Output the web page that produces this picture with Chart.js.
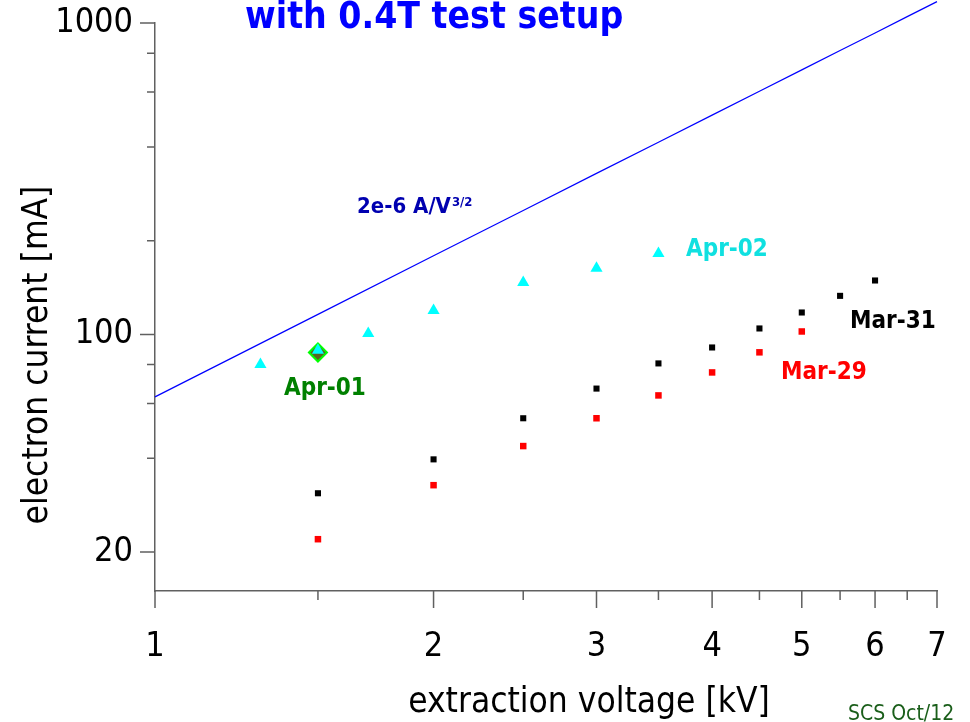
<!DOCTYPE html>
<html>
<head>
<meta charset="utf-8">
<script src="https://cdn.jsdelivr.net/npm/chart.js@4.4.0/dist/chart.umd.min.js"></script>
<style>
  body { margin: 0; background: #fff; }
</style>
</head>
<body>
<canvas id="myChart" width="970" height="722"></canvas>
<script>
// 2e-6 A/V^3/2 reference line
var voltageLine = [1, 1.5, 2, 2.5, 3, 3.5, 4, 4.5, 5, 5.5, 6, 6.5, 7, 7.5];
var currentLine = [63, 116, 179, 250, 329, 414, 506, 604, 707, 816, 929, 1048, 1171, 1299];

var voltageApr02 = [1.3, 1.5, 1.7, 2, 2.5, 3, 3.5];
var currentApr02 = [80, 89, 100.7, 119.4, 146.8, 163, 182];

var voltageMar31 = [1.5, 2, 2.5, 3, 3.5, 4, 4.5, 5, 5.5, 6];
var currentMar31 = [30.9, 39.7, 53.8, 67, 80.7, 90.8, 104.5, 117.6, 133, 149];

var voltageMar29 = [1.5, 2, 2.5, 3, 3.5, 4, 4.5, 5];
var currentMar29 = [22, 32.8, 43.8, 53.8, 63.7, 75.5, 87.6, 102.2];

var voltageApr01 = [1.5];
var currentApr01 = [87.5];

var xMajor = [1, 2, 3, 4, 5, 6, 7];
var xMinor = [1.5, 2.5, 3.5, 4.5, 5.5, 6.5];
var yMajor = [20, 100, 1000];
var yMinor = [40, 60, 80, 200, 400, 600, 800];

var FONT = "'DejaVu Sans Condensed', 'DejaVu Sans', sans-serif";
var AXIS = '#606060';

function pts(xs, ys) {
    return xs.map(function(v, i) { return {x: v, y: ys[i]}; });
}

var decorations = {
    id: 'decorations',
    afterDraw: function(chart) {
        var ctx = chart.ctx, xs = chart.scales.x, ys = chart.scales.y, a = chart.chartArea;
        ctx.save();
        // tick marks
        ctx.strokeStyle = AXIS;
        ctx.lineWidth = 1.5;
        ctx.beginPath();
        xMajor.forEach(function(v) { var p = xs.getPixelForValue(v); ctx.moveTo(p, a.bottom); ctx.lineTo(p, a.bottom + 17); });
        xMinor.forEach(function(v) { var p = xs.getPixelForValue(v); ctx.moveTo(p, a.bottom); ctx.lineTo(p, a.bottom + 9); });
        yMajor.forEach(function(v) { var p = ys.getPixelForValue(v); ctx.moveTo(a.left, p); ctx.lineTo(a.left - 15, p); });
        yMinor.forEach(function(v) { var p = ys.getPixelForValue(v); ctx.moveTo(a.left, p); ctx.lineTo(a.left - 8, p); });
        ctx.stroke();

        // texts
        ctx.textBaseline = 'alphabetic';
        ctx.textAlign = 'left';
        ctx.fillStyle = '#0000ff';
        ctx.font = 'bold 37px ' + FONT;
        ctx.fillText('with 0.4T test setup', 245, 28);

        ctx.fillStyle = '#0000b0';
        ctx.font = 'bold 22px ' + FONT;
        ctx.fillText('2e-6 A/V', 357, 213);
        var w = ctx.measureText('2e-6 A/V').width;
        ctx.font = 'bold 13px ' + FONT;
        ctx.fillText('3/2', 357 + w + 1, 206);

        ctx.font = 'bold 24px ' + FONT;
        ctx.fillStyle = '#10e0e0';
        ctx.fillText('Apr-02', 686, 256);
        ctx.fillStyle = '#008000';
        ctx.fillText('Apr-01', 284, 395);
        ctx.fillStyle = '#000000';
        ctx.fillText('Mar-31', 850, 328);
        ctx.fillStyle = '#ff0000';
        ctx.fillText('Mar-29', 781, 379);

        ctx.fillStyle = '#1a5e1a';
        ctx.font = '21px ' + FONT;
        ctx.fillText('SCS Oct/12', 848, 720);

        ctx.fillStyle = '#000000';
        ctx.font = '35px ' + FONT;
        ctx.textAlign = 'center';
        ctx.fillText('extraction voltage [kV]', 589, 712);
        ctx.translate(47, 355);
        ctx.rotate(-Math.PI / 2);
        ctx.fillText('electron current [mA]', 0, 0);
        ctx.restore();
    }
};

var ctx = document.getElementById('myChart').getContext('2d');
new Chart(ctx, {
    type: 'scatter',
    data: {
        datasets: [{
            label: 'Apr-02',
            data: pts(voltageApr02, currentApr02),
            pointStyle: 'triangle',
            pointRadius: 7,
            backgroundColor: '#00ffff',
            borderColor: '#00ffff',
            borderWidth: 0,
            order: 0
        }, {
            label: 'Apr-01',
            data: pts(voltageApr01, currentApr01),
            pointStyle: 'rectRot',
            pointRadius: 9,
            backgroundColor: '#5a6420',
            borderColor: '#00ff00',
            borderWidth: 2,
            order: 1
        }, {
            label: 'Mar-31',
            data: pts(voltageMar31, currentMar31),
            pointStyle: 'rect',
            pointRadius: 4.3,
            backgroundColor: '#000000',
            borderWidth: 0,
            order: 2
        }, {
            label: 'Mar-29',
            data: pts(voltageMar29, currentMar29),
            pointStyle: 'rect',
            pointRadius: 4.6,
            backgroundColor: '#ff0000',
            borderWidth: 0,
            order: 3
        }, {
            label: '2e-6 A/V3/2',
            data: pts(voltageLine, currentLine),
            showLine: true,
            pointRadius: 0,
            borderColor: '#0000ff',
            borderWidth: 1.2,
            clip: false,
            order: 4
        }]
    },
    options: {
        responsive: false,
        animation: false,
        events: [],
        layout: { padding: { top: 23, right: 33, left: 0, bottom: 0 } },
        plugins: {
            legend: { display: false },
            tooltip: { enabled: false }
        },
        scales: {
            x: {
                type: 'logarithmic',
                min: 1,
                max: 7,
                grid: { display: false, drawTicks: false },
                border: { display: true, color: AXIS, width: 1.5 },
                afterBuildTicks: function(s) { s.ticks = xMajor.map(function(v) { return {value: v}; }); },
                afterFit: function(s) { s.height = 131; s.paddingLeft = 0; s.paddingRight = 0; },
                ticks: {
                    autoSkip: false,
                    maxRotation: 0,
                    padding: 36,
                    color: '#000',
                    font: { family: FONT, size: 34 },
                    callback: function(v) { return String(v); }
                }
            },
            y: {
                type: 'logarithmic',
                min: 15,
                max: 1000,
                grid: { display: false, drawTicks: false },
                border: { display: true, color: AXIS, width: 1.5 },
                afterBuildTicks: function(s) { s.ticks = yMajor.map(function(v) { return {value: v}; }); },
                afterFit: function(s) { s.width = 155; s.paddingTop = 0; s.paddingBottom = 0; },
                ticks: {
                    autoSkip: false,
                    padding: 22,
                    color: '#000',
                    font: { family: FONT, size: 34 },
                    callback: function(v) { return String(v); }
                }
            }
        }
    },
    plugins: [decorations]
});
</script>
</body>
</html>
